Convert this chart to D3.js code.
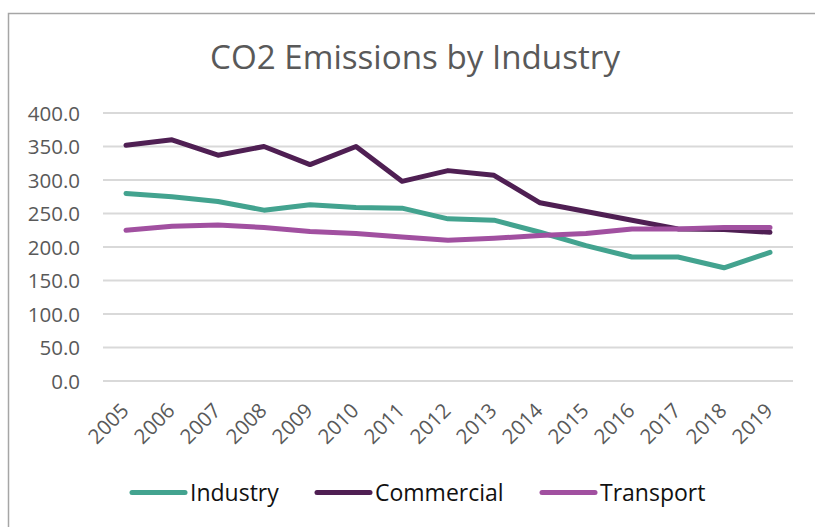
<!DOCTYPE html>
<html><head><meta charset="utf-8">
<script src="https://cdn.jsdelivr.net/npm/d3@7"></script>
<style>html,body{margin:0;padding:0;background:#fff;}svg{display:block;}</style>
</head><body>
<svg id="chart" width="815" height="527"></svg>
<script>
const years = ["2005","2006","2007","2008","2009","2010","2011","2012","2013","2014","2015","2016","2017","2018","2019"];
const industry   = [280, 275, 268, 255, 263, 259, 258, 242, 240, 222, 202, 185, 185, 169, 192];
const commercial = [352, 360, 337, 350, 323, 350, 298, 314, 307, 266, 253, 240, 227, 226, 222];
const transport  = [225, 231, 233, 229, 223, 220, 215, 210, 213, 217, 220, 227, 227, 229, 229];
const yTicks = [0, 50, 100, 150, 200, 250, 300, 350, 400];
const seriesNames = ["Industry", "Commercial", "Transport"];
const seriesColors = ["#43a38f", "#4f1f53", "#a150a0"];

const svg = d3.select("#chart");
const font = "'Open Sans', 'Noto Sans', sans-serif";

// outer border
svg.append("rect").attr("x", 8.5).attr("y", 13.5).attr("width", 830).attr("height", 540)
  .attr("fill", "none").attr("stroke", "#a6a6a6").attr("stroke-width", 1.5);

const x = d3.scaleBand().domain(years).range([103, 793]);
const y = d3.scaleLinear().domain([0, 400]).range([381, 113]);

// title
svg.append("text").attr("x", 415).attr("y", 68.5).attr("text-anchor", "middle")
  .attr("font-family", font).attr("font-size", 32).attr("fill", "#595959")
  .attr("textLength", 410).attr("lengthAdjust", "spacingAndGlyphs")
  .text("CO2 Emissions by Industry");

// gridlines
svg.append("g").selectAll("line").data(yTicks).join("line")
  .attr("x1", 103).attr("x2", 793)
  .attr("y1", d => y(d)).attr("y2", d => y(d))
  .attr("stroke", "#d9d9d9").attr("stroke-width", 2);

// y axis
const yAxis = d3.axisLeft(y).tickValues(yTicks).tickSize(0).tickPadding(0)
  .tickFormat(d3.format(".1f"));
const gy = svg.append("g").attr("transform", "translate(80,0)").call(yAxis);
gy.select(".domain").remove();
gy.selectAll("text").attr("font-family", font).attr("font-size", 20.5).attr("fill", "#595959")
  .attr("dy", "0.36em");

// x axis
const xAxis = d3.axisBottom(x).tickSize(0).tickPadding(0);
const gx = svg.append("g").attr("transform", "translate(0,381)").call(xAxis);
gx.select(".domain").remove();
gx.selectAll("text").attr("font-family", font).attr("font-size", 20.5).attr("fill", "#595959")
  .attr("text-anchor", "end").attr("dy", 0)
  .attr("transform", "translate(4,31) rotate(-45)");

// lines
const data = [industry, commercial, transport];
const line = d3.line().x((d, i) => x(years[i]) + x.bandwidth() / 2).y(d => y(d));
svg.append("g").selectAll("path").data(data).join("path")
  .attr("d", d => line(d)).attr("fill", "none")
  .attr("stroke", (d, i) => seriesColors[i]).attr("stroke-width", 5)
  .attr("stroke-linejoin", "round").attr("stroke-linecap", "round");

// legend
const legendX = [132, 317, 542];
const lg = svg.append("g").selectAll("g").data(seriesNames).join("g")
  .attr("transform", (d, i) => `translate(${legendX[i]},492.5)`);
lg.append("line").attr("x1", 0).attr("x2", 53).attr("y1", 0).attr("y2", 0)
  .attr("stroke", (d, i) => seriesColors[i]).attr("stroke-width", 5).attr("stroke-linecap", "round");
lg.append("text").attr("x", 58).attr("y", 0).attr("dy", "0.36em")
  .attr("font-family", font).attr("font-size", 23).attr("fill", "#111")
  .text(d => d);
</script>
</body></html>
